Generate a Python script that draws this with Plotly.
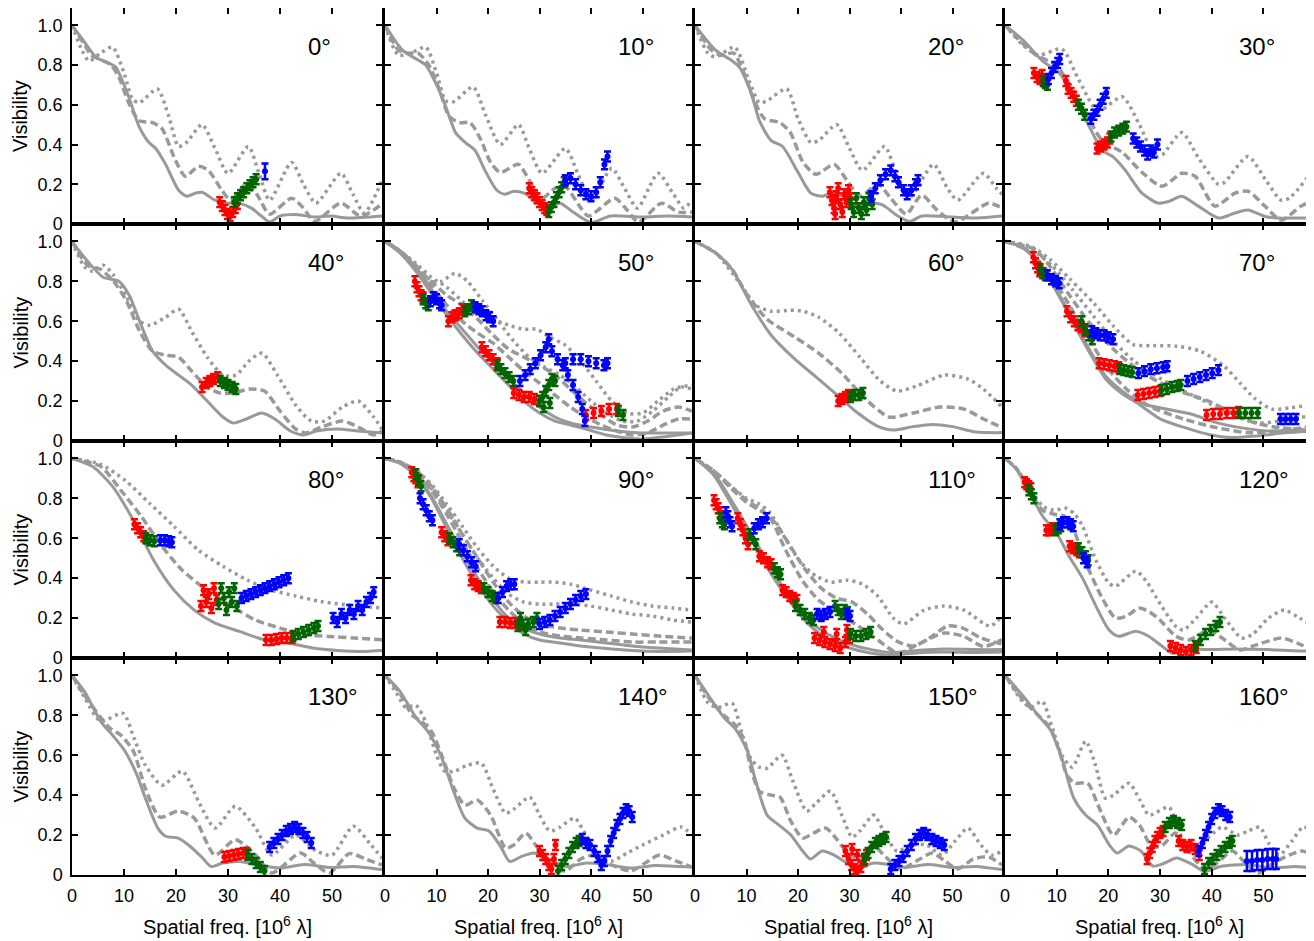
import plotly.graph_objects as go

ANGLES = [0, 10, 20, 30, 40, 50, 60, 70, 80, 90, 110, 120, 130, 140, 150, 160]
X_TICKS = [0, 10, 20, 30, 40, 50]
Y_TICKS = [0, 0.2, 0.4, 0.6, 0.8, 1.0]
Y_TICK_TEXT = ["0", "0.2", "0.4", "0.6", "0.8", "1.0"]

# model curves: angle -> list of curves, each a list of (spatial freq, visibility)
SOLID = {
    0: [[(0,1.0),(2,0.93),(4.6,0.84),(7.1,0.81),(8.4,0.79),(10.9,0.64),(12.9,0.49),(14.8,0.41),(16.1,0.38),(18,0.30),(20.5,0.17),(22.1,0.14),(23.7,0.155),(25,0.16),(27.5,0.12),(30,0.105),(32,0.105),(34.5,0.08),(36.4,0.04),(38,0.01),(40,0.04),(43.4,0.047),(46.6,0.035),(49.8,0.04),(53,0.03),(59.6,0.04)]],
    10: [[(0,1.0),(3.4,0.875),(6.4,0.825),(7.9,0.80),(10.2,0.69),(11.8,0.59),(13.7,0.46),(15.6,0.41),(17.5,0.37),(19.4,0.27),(21.7,0.17),(23.2,0.15),(25.1,0.165),(27,0.155),(30,0.105),(32,0.085),(34,0.105),(36.5,0.06),(40,0.008),(43.8,0.04),(50,0.035),(55,0.04),(59.6,0.035)]],
    20: [[(0,1),(4,0.875),(7,0.825),(8.6,0.79),(10.9,0.66),(12.5,0.52),(14.8,0.42),(17,0.39),(20,0.26),(22.5,0.155),(24.8,0.14),(26.3,0.155),(28.6,0.14),(31.7,0.09),(34,0.105),(36.3,0.097),(39.4,0.04),(41.7,0.013),(44,0.04),(50,0.035),(54.8,0.03),(59.6,0.04)]],
    30: [[(0,1),(3.5,0.925),(7.3,0.82),(10.5,0.76),(13.7,0.62),(16.9,0.46),(18.8,0.37),(20.8,0.34),(23.3,0.27),(26.5,0.155),(29.7,0.105),(31.7,0.114),(34.2,0.14),(37.4,0.09),(41.3,0.03),(44.5,0.055),(47,0.07),(50.3,0.038),(52.8,0.03),(56,0.03),(59.6,0.03)]],
    40: [[(0,1),(3,0.9),(6,0.82),(9,0.8),(11,0.73),(13,0.6),(15.5,0.45),(18,0.38),(20.5,0.33),(23,0.28),(26,0.2),(29,0.12),(31,0.09),(33.5,0.11),(36.5,0.14),(39,0.11),(42,0.05),(44.5,0.03),(47,0.05),(51,0.06),(55,0.05),(59.6,0.04)]],
    50: [[(0,1),(3,0.95),(6,0.87),(9,0.76),(12,0.65),(15,0.56),(18,0.47),(21,0.39),(24,0.31),(27,0.24),(30,0.17),(33,0.12),(36,0.09),(40,0.07),(45,0.05),(50,0.04),(55,0.04),(59.6,0.04)],
         [(0,1),(3,0.94),(6,0.85),(9,0.74),(12,0.63),(15,0.53),(18,0.44),(21,0.36),(24,0.28),(27,0.2),(30,0.14),(33,0.1),(36,0.08),(39,0.06),(43,0.03),(47,0.015),(50,0.01),(54,0.02),(59.6,0.04)]],
    60: [[(0,1),(4.1,0.94),(7.2,0.86),(11,0.68),(14.8,0.53),(19.4,0.41),(24,0.31),(28.5,0.21),(31.6,0.14),(35.4,0.075),(38.5,0.055),(42.3,0.072),(46.1,0.083),(50,0.072),(54.5,0.045),(59.6,0.042)]],
    70: [[(0,1),(3.4,0.97),(7.2,0.875),(11,0.71),(14.9,0.525),(19.5,0.325),(24,0.225),(27.1,0.183),(31.7,0.158),(36.3,0.133),(40.9,0.092),(45.5,0.067),(50.8,0.05),(59.6,0.058)],
         [(0,1),(3.4,0.97),(7.2,0.87),(11,0.7),(14.9,0.51),(19.5,0.31),(22.5,0.24),(25.6,0.19),(30.2,0.108),(34.8,0.067),(39.4,0.033),(44,0.017),(48.5,0.025),(54.7,0.042),(59.6,0.05)]],
    80: [[(0,1),(3.9,0.96),(7.8,0.86),(11.8,0.69),(15.7,0.49),(19.6,0.34),(23.5,0.24),(27.5,0.175),(32.2,0.133),(36.9,0.092),(41.6,0.075),(46.3,0.05),(51,0.038),(56.5,0.033),(59.6,0.037)]],
    90: [[(0,1),(3,0.975),(6,0.91),(9,0.8),(12,0.65),(15,0.5),(18,0.37),(21,0.26),(24,0.18),(27,0.12),(30,0.09),(34,0.075),(38,0.06),(43,0.048),(48,0.038),(53,0.033),(59.6,0.035)],
         [(0,1),(3,0.975),(6,0.915),(9,0.81),(12,0.67),(15,0.53),(18,0.4),(21,0.29),(24,0.2),(27,0.15),(30,0.12),(34,0.1),(38,0.09),(43,0.075),(48,0.06),(53,0.05),(59.6,0.04)]],
    110: [[(0,1),(3.5,0.93),(7.3,0.78),(11.2,0.61),(15,0.44),(18.8,0.29),(22.7,0.175),(26.5,0.11),(30.4,0.067),(34.2,0.042),(38,0.028),(43.2,0.038),(48.3,0.045),(54.7,0.042),(59.6,0.042)],
          [(0,1),(3.5,0.92),(7.3,0.76),(11,0.59),(14.8,0.42),(18.5,0.28),(22,0.17),(26,0.09),(30,0.05),(34,0.025),(38,0.015),(43,0.025),(48,0.03),(54,0.028),(59.6,0.03)]],
    120: [[(0,1),(2.2,0.945),(4.8,0.83),(7.3,0.71),(9.9,0.63),(12.4,0.51),(15,0.4),(17.6,0.26),(20.1,0.142),(22,0.109),(25.3,0.134),(27.8,0.109),(30.4,0.059),(32.3,0.025),(35.5,0.045),(39.4,0.042),(44.5,0.045),(50.9,0.042),(59.6,0.033)]],
    130: [[(0,1),(2.4,0.92),(5.5,0.77),(7.8,0.7),(10.2,0.62),(12.5,0.5),(14.1,0.385),(16.5,0.235),(18,0.194),(20.4,0.185),(22.7,0.144),(25.1,0.085),(26.7,0.043),(29,0.06),(32.2,0.068),(35.3,0.052),(40,0.035),(44.7,0.052),(49.4,0.038),(54.1,0.043),(59.6,0.027)]],
    140: [[(0,1),(2.9,0.92),(6,0.79),(8.3,0.72),(10.8,0.6),(13.1,0.435),(15.5,0.285),(17.9,0.235),(20.2,0.22),(22.6,0.135),(24.2,0.068),(26.5,0.093),(28.9,0.11),(32,0.077),(35.2,0.043),(39.1,0.06),(43.1,0.052),(47.8,0.035),(52.5,0.048),(57.2,0.043),(59.6,0.04)]],
    150: [[(0,1),(2.6,0.9),(5.6,0.79),(7.9,0.73),(10.2,0.62),(11.8,0.47),(14,0.3),(16.3,0.25),(18.6,0.2),(20.9,0.12),(22.4,0.08),(24.7,0.12),(27,0.1),(30,0.052),(31.6,0.035),(34.7,0.06),(37.7,0.052),(40.8,0.038),(45.3,0.052),(49.9,0.038),(54.5,0.043),(59.6,0.027)]],
    160: [[(0,1),(3.4,0.9),(6.4,0.8),(8.7,0.73),(11,0.585),(13.3,0.385),(15.6,0.3),(17.9,0.25),(20.2,0.15),(21.7,0.11),(24,0.145),(26.3,0.12),(28.6,0.045),(30.9,0.06),(33.2,0.085),(36.3,0.052),(38.6,0.018),(41.7,0.043),(47,0.052),(51.6,0.035),(56.2,0.043),(59.6,0.035)]],
}

DASHED = {
    0: [[(0,1.0),(2.7,0.89),(3.6,0.85),(5.2,0.83),(7.5,0.80),(9,0.74),(10.9,0.61),(12.9,0.52),(15.5,0.51),(17.3,0.48),(19.9,0.32),(21.8,0.24),(24.3,0.29),(26.2,0.27),(28.8,0.17),(30.5,0.12),(33.5,0.2),(35.5,0.15),(38,0.05),(42.2,0.13),(44.5,0.08),(46.6,0.013),(51.7,0.105),(55.5,0.04),(59.6,0.1)]],
    10: [[(0,1.0),(2.6,0.875),(4.5,0.86),(6.4,0.86),(8.5,0.80),(10.5,0.68),(12.5,0.54),(14.5,0.51),(16.5,0.51),(18.5,0.43),(20.5,0.31),(22.4,0.26),(25.9,0.30),(28,0.22),(30.5,0.13),(33,0.18),(35,0.19),(37.5,0.1),(39.5,0.04),(44.6,0.13),(47,0.07),(49.2,0.01),(53.7,0.105),(57,0.06),(59.6,0.06)]],
    20: [[(0,1),(3,0.88),(5,0.85),(7.5,0.86),(9.5,0.76),(11.5,0.62),(13.5,0.53),(16.5,0.51),(18.5,0.46),(21,0.31),(23.5,0.25),(27,0.30),(29.5,0.22),(32,0.14),(35.5,0.20),(38,0.13),(41,0.05),(44,0.145),(47,0.07),(50.5,0.01),(57,0.105),(59.6,0.08)]],
    30: [[(0,1),(2.2,0.94),(6,0.85),(9.9,0.8),(12.5,0.7),(15,0.59),(18.8,0.42),(22.7,0.36),(26.5,0.26),(30.4,0.19),(34.2,0.255),(36.8,0.24),(40.6,0.09),(44.5,0.155),(47,0.165),(50.3,0.09),(53.4,0.02),(57.3,0.09),(59.6,0.12)]],
    40: [[(0,1),(3,0.88),(5.5,0.86),(8,0.8),(10.5,0.7),(13,0.55),(15.5,0.45),(18,0.43),(20.5,0.42),(23,0.35),(26,0.27),(28.5,0.24),(31,0.24),(34,0.26),(37,0.25),(40,0.15),(43,0.06),(45,0.04),(48,0.07),(52,0.1),(55,0.07),(58,0.03),(59.6,0.05)]],
    50: [[(0,1),(3,0.95),(6,0.88),(9,0.78),(12,0.68),(15,0.6),(18,0.54),(21,0.49),(24,0.42),(27,0.35),(30,0.29),(33,0.23),(36,0.17),(39,0.12),(42,0.08),(45,0.05),(48,0.03),(51,0.04),(54,0.08),(57,0.11),(59.6,0.11)],
         [(0,1),(3,0.95),(6,0.87),(9,0.8),(12,0.73),(15,0.68),(18,0.61),(21,0.53),(24,0.46),(27,0.42),(30,0.38),(33,0.33),(36,0.26),(39,0.19),(42,0.13),(45,0.08),(48,0.07),(51,0.1),(54,0.15),(57,0.17),(59.6,0.15)]],
    60: [[(0,1),(4.1,0.94),(7.2,0.86),(10.2,0.73),(14,0.61),(19.4,0.52),(24,0.44),(28.5,0.34),(33.1,0.21),(37.7,0.12),(42.3,0.14),(47.6,0.17),(52.2,0.16),(56,0.11),(59.6,0.067)]],
    70: [[(0,1),(5.7,0.96),(8.7,0.875),(12.6,0.725),(16.4,0.59),(21,0.46),(25.6,0.36),(30.2,0.29),(34.8,0.24),(39.4,0.2),(44,0.14),(48.5,0.09),(53.1,0.067),(57.7,0.058),(59.6,0.067)],
         [(0,1),(4,0.96),(8,0.86),(12,0.7),(16,0.52),(20,0.36),(23.5,0.26),(27.9,0.175),(34.8,0.108),(40.9,0.067),(47,0.042),(53.1,0.05),(59.6,0.075)]],
    80: [[(0,1),(5.5,0.96),(9.4,0.84),(13.3,0.71),(17.3,0.56),(21.2,0.44),(25.9,0.34),(30.6,0.26),(35.3,0.19),(40,0.15),(44.7,0.117),(49.4,0.108),(54.1,0.1),(59.6,0.092)]],
    90: [[(0,1),(3,0.98),(6,0.93),(9,0.84),(12,0.72),(15,0.58),(18,0.45),(21,0.33),(24,0.24),(27,0.17),(30,0.13),(34,0.11),(38,0.1),(43,0.09),(48,0.08),(53,0.08),(59.6,0.08)],
         [(0,1),(3,0.98),(6,0.94),(9,0.86),(12,0.75),(15,0.62),(18,0.5),(21,0.38),(24,0.28),(27,0.21),(30,0.17),(34,0.15),(38,0.14),(43,0.13),(48,0.12),(53,0.11),(59.6,0.1)]],
    110: [[(0,1),(3.5,0.94),(7,0.85),(10,0.78),(12.5,0.74),(14.4,0.71),(17.6,0.54),(20.8,0.39),(24,0.29),(27.8,0.225),(31.7,0.16),(35.5,0.09),(39.4,0.025),(43.2,0.067),(48.3,0.125),(52.2,0.108),(56,0.058),(59.6,0.092)],
          [(0,1),(3.5,0.94),(7,0.86),(10,0.79),(13,0.74),(15.5,0.68),(18.5,0.56),(21.5,0.44),(24.5,0.35),(27.5,0.3),(30.5,0.28),(33.5,0.22),(36.5,0.14),(39.5,0.08),(42.5,0.06),(45.5,0.1),(49,0.16),(52,0.15),(55.5,0.1),(59.6,0.07)]],
    120: [[(0,1),(2.2,0.95),(4.8,0.84),(7.3,0.74),(9.5,0.72),(11.5,0.71),(13,0.66),(15.6,0.48),(18.8,0.3),(21.4,0.2),(23.5,0.21),(25.9,0.25),(28,0.23),(30,0.19),(33,0.11),(35.5,0.09),(39.5,0.14),(42,0.1),(45.5,0.04),(48,0.06),(53.5,0.1),(57,0.07),(59.6,0.04)]],
    130: [[(0,1),(2.4,0.9),(5.5,0.79),(7.1,0.74),(9.4,0.7),(11.8,0.62),(14.1,0.435),(16.9,0.29),(20.4,0.32),(23.5,0.285),(27.5,0.1),(31.4,0.177),(35.3,0.1),(38.4,0.01),(43.9,0.11),(46.5,0.06),(49.5,0.01),(53.3,0.107),(56.5,0.08),(59.6,0.05)]],
    140: [[(0,1),(2.9,0.91),(5.3,0.8),(7,0.77),(9,0.72),(11,0.6),(13.5,0.43),(15.5,0.35),(17.9,0.375),(20.5,0.3),(23.4,0.135),(25,0.15),(27.3,0.21),(29.5,0.14),(32,0.05),(35,0.02),(38,0.08),(40.7,0.1),(44,0.05),(47.8,0.02),(50.5,0.06),(53.3,0.1),(56.5,0.07),(59.6,0.04)]],
    150: [[(0,1),(2.6,0.89),(5.6,0.8),(7.9,0.75),(9.5,0.68),(11,0.52),(12.5,0.42),(14.8,0.4),(16.5,0.39),(18.6,0.27),(20.9,0.185),(23,0.21),(25.4,0.235),(27.5,0.18),(30,0.1),(32,0.09),(34.5,0.15),(37,0.09),(40,0.03),(43,0.07),(46.1,0.11),(48.5,0.07),(51,0.03),(54,0.08),(57,0.09),(59.6,0.05)]],
    160: [[(0,1),(3.4,0.88),(6.4,0.8),(8.7,0.74),(10.5,0.62),(12,0.5),(13.5,0.46),(16,0.46),(18,0.35),(21,0.2),(24,0.29),(26,0.25),(28.5,0.14),(30.5,0.15),(33,0.21),(35.5,0.12),(38.6,0.03),(41,0.06),(44,0.12),(46.5,0.06),(49,0.01),(52,0.06),(55,0.1),(57.5,0.12),(59.6,0.1)]],
}

DOTTED = {
    0: [[(0,1.0),(2,0.87),(3.3,0.82),(5.5,0.86),(7.8,0.89),(10,0.76),(11.6,0.63),(12.9,0.61),(16.4,0.68),(18.5,0.55),(20.5,0.39),(22,0.41),(25,0.50),(27.5,0.38),(30,0.255),(33.9,0.39),(36,0.25),(38,0.12),(42.2,0.31),(44.5,0.2),(46.9,0.105),(51.7,0.255),(54,0.15),(56.2,0.055),(59.6,0.22)]],
    10: [[(0,1.0),(2.6,0.85),(5,0.86),(7.9,0.89),(10,0.76),(11.8,0.62),(13.3,0.615),(17.1,0.69),(19.5,0.55),(22.4,0.40),(25.9,0.50),(28,0.38),(30.5,0.255),(35,0.38),(37.5,0.25),(40,0.12),(44,0.28),(46.5,0.18),(49,0.08),(53,0.255),(56,0.15),(58,0.08),(59.6,0.12)]],
    20: [[(0,1),(2.5,0.86),(4,0.84),(7.7,0.89),(10.5,0.72),(12.5,0.61),(14,0.62),(17.8,0.68),(20,0.53),(22.5,0.41),(24,0.42),(27.5,0.50),(30,0.38),(32.5,0.27),(36.8,0.39),(39,0.26),(41.5,0.13),(46.3,0.30),(49,0.18),(51,0.12),(56,0.255),(58.5,0.18),(59.6,0.15)]],
    30: [[(0,1),(3.5,0.9),(6.5,0.85),(11,0.88),(14,0.74),(17.5,0.58),(19,0.58),(22.7,0.64),(26,0.5),(29.1,0.34),(30.5,0.35),(34.2,0.46),(37.5,0.33),(41.3,0.2),(42.5,0.21),(47,0.34),(50.5,0.22),(53.4,0.12),(55,0.13),(59.6,0.27)]],
    40: [[(0,1),(2.5,0.87),(4,0.85),(6,0.88),(8,0.83),(10.5,0.72),(13,0.6),(15,0.58),(18,0.62),(20.5,0.66),(23,0.55),(26,0.42),(29,0.33),(31.5,0.33),(34,0.4),(36.5,0.44),(39.5,0.33),(43,0.18),(46,0.1),(48.5,0.1),(52,0.17),(55,0.2),(58,0.12),(59.6,0.06)]],
    50: [[(0,1),(3,0.95),(6,0.88),(9,0.8),(11,0.8),(13.6,0.84),(16,0.8),(19,0.7),(22,0.6),(25,0.5),(28,0.42),(31,0.37),(34,0.33),(37,0.27),(40,0.2),(43,0.14),(46,0.1),(49,0.1),(52,0.15),(55,0.22),(57.5,0.27),(59.6,0.26)],
         [(0,1),(3,0.95),(6,0.89),(9,0.82),(12,0.77),(15,0.7),(18,0.64),(21,0.61),(24,0.58),(27,0.56),(29.5,0.56),(32,0.52),(35,0.48),(38,0.4),(41,0.3),(44,0.2),(47,0.14),(50,0.14),(53,0.2),(56,0.26),(59.6,0.28)]],
    60: [[(0,1),(4.1,0.94),(8.7,0.79),(11.8,0.68),(14.8,0.65),(18.5,0.655),(21,0.65),(24,0.62),(28,0.54),(32,0.42),(36,0.3),(39.2,0.25),(43,0.275),(48.4,0.33),(53,0.31),(56,0.26),(59.6,0.17)]],
    70: [[(0,1),(4.9,0.975),(8.7,0.91),(12.6,0.81),(17.2,0.69),(21,0.575),(24.8,0.483),(28.6,0.478),(33.2,0.475),(37.8,0.45),(42.4,0.375),(45.5,0.29),(48.5,0.21),(51.6,0.16),(55.4,0.167),(59.6,0.183)],
         [(0,1),(5,0.96),(9,0.88),(13,0.76),(17,0.63),(21,0.5),(25,0.4),(29,0.33),(33,0.27),(37,0.22),(41,0.17),(45,0.12),(49,0.09),(53,0.1),(57,0.12),(59.6,0.12)]],
    80: [[(0,1),(5.5,0.97),(10.2,0.89),(14.9,0.775),(19.6,0.66),(24.3,0.54),(29,0.46),(33.7,0.39),(38.4,0.34),(43.1,0.31),(47.8,0.283),(52.5,0.267),(59.6,0.25)]],
    90: [[(0,1),(3,0.98),(6,0.94),(9,0.87),(12,0.77),(15,0.66),(18,0.55),(21,0.46),(24,0.4),(27,0.38),(30,0.38),(33,0.38),(36,0.37),(40,0.34),(44,0.31),(48,0.28),(52,0.26),(56,0.25),(59.6,0.24)],
         [(0,1),(3,0.98),(6,0.93),(9,0.85),(12,0.74),(15,0.62),(18,0.5),(21,0.4),(24,0.32),(27,0.28),(30,0.27),(33,0.27),(36,0.27),(40,0.26),(44,0.24),(48,0.22),(52,0.21),(56,0.19),(59.6,0.18)]],
    110: [[(0,1),(3.5,0.94),(7,0.86),(10,0.8),(12.5,0.77),(14.5,0.73),(17.5,0.6),(20.5,0.48),(23.5,0.41),(26.5,0.38),(29.5,0.39),(32.5,0.37),(35.5,0.31),(38.5,0.2),(40.5,0.17),(44.5,0.24),(48.3,0.26),(52.2,0.24),(57.3,0.16),(59.6,0.21)]],
    120: [[(0,1),(2.2,0.95),(4.8,0.85),(7.3,0.76),(9.5,0.74),(11.8,0.75),(13.5,0.72),(15,0.66),(17.6,0.49),(20.1,0.375),(21.4,0.36),(25.3,0.435),(27.5,0.38),(29.1,0.31),(33,0.16),(34.5,0.14),(37,0.2),(40,0.28),(42.5,0.2),(45.8,0.1),(48,0.12),(51,0.2),(54,0.24),(57,0.2),(59.6,0.16)]],
    130: [[(0,1),(2.4,0.89),(5.5,0.77),(9.8,0.81),(12,0.68),(14.1,0.55),(17.3,0.45),(21.2,0.52),(24.3,0.37),(27.5,0.235),(31.4,0.344),(35.3,0.235),(38.4,0.1),(43,0.2),(47,0.12),(50,0.1),(54.1,0.244),(57.5,0.15),(59.6,0.085)]],
    140: [[(0,1),(2.5,0.9),(4,0.84),(6,0.85),(8,0.76),(10,0.6),(11.6,0.52),(13.5,0.52),(16,0.55),(18.7,0.56),(21,0.43),(23.4,0.31),(25,0.33),(28.1,0.39),(30,0.3),(32,0.22),(34,0.24),(36.8,0.285),(39,0.2),(41.5,0.1),(44,0.07),(47,0.11),(50,0.15),(54,0.2),(57.5,0.24),(59.6,0.2)]],
    150: [[(0,1),(2.6,0.86),(4.5,0.84),(7.2,0.86),(9,0.72),(10.9,0.58),(12.5,0.54),(14,0.535),(16.9,0.6),(19,0.47),(21.7,0.32),(23.5,0.36),(26.3,0.42),(28.5,0.3),(30.5,0.19),(32,0.22),(34.7,0.3),(37,0.2),(39.2,0.12),(42,0.15),(45,0.15),(48,0.1),(50.5,0.17),(53,0.235),(55.5,0.15),(57.6,0.1),(59.6,0.12)]],
    160: [[(0,1),(3.4,0.87),(5,0.84),(7.2,0.87),(9,0.75),(11,0.6),(13,0.54),(15.6,0.67),(17.5,0.55),(19.4,0.385),(21,0.4),(24,0.46),(26,0.38),(27.9,0.3),(31.7,0.34),(34,0.2),(36,0.12),(39,0.18),(42,0.24),(45,0.2),(47,0.22),(49.3,0.24),(51,0.16),(53.1,0.1),(55.5,0.17),(57.7,0.24),(59.6,0.22)]],
}

# measured visibilities: angle -> list of (spatial freq, visibility[, error])
RED = {
    0: [(28.4,0.11),(28.9,0.09),(29.4,0.07),(29.9,0.05),(30.4,0.04),(30.9,0.06),(31.4,0.08),(31.8,0.1)],
    10: [(28,0.18),(28.5,0.16),(29,0.145),(29.5,0.13),(30,0.11),(30.5,0.095),(31,0.08),(31.4,0.07)],
    20: [(26.2,0.16),(26.6,0.12),(27,0.08),(27.4,0.14),(27.8,0.18),(28.2,0.1),(28.6,0.06),(29,0.15),(29.4,0.11),(29.8,0.17),(30.2,0.13),(27.2,0.05)],
    30: [(5.6,0.76),(6.2,0.74),(6.8,0.73),(7.2,0.75),(7.6,0.72),(11.8,0.72),(12.2,0.68),(12.8,0.66),(13.3,0.64),(13.8,0.62),(17.8,0.38),(18.5,0.39),(19.2,0.4),(19.8,0.41),(20.3,0.43)],
    40: [(25,0.27),(25.8,0.29),(26.5,0.3),(27.2,0.31),(28,0.32)],
    50: [(5.8,0.8),(6.2,0.77),(6.6,0.75),(7,0.73),(7.4,0.72),(12.3,0.6),(13,0.62),(13.7,0.63),(14.4,0.64),(15,0.66),(18.8,0.47),(19.5,0.45),(20.2,0.43),(21,0.41),(21.8,0.39),(25,0.24),(26,0.23),(27,0.22),(28,0.22),(29,0.21),(30,0.2),(39,0.13),(40.5,0.14),(42,0.15),(43.5,0.16),(45,0.16)],
    60: [(27.8,0.2),(28.5,0.21),(29.2,0.22),(29.8,0.23)],
    70: [(5.5,0.92),(5.9,0.89),(6.3,0.87),(6.7,0.85),(12,0.65),(12.7,0.62),(13.4,0.6),(14.1,0.58),(14.8,0.57),(15.5,0.55),(18.2,0.39),(19.2,0.385),(20.2,0.38),(21.2,0.375),(22,0.37),(25.7,0.23),(26.8,0.235),(27.9,0.24),(29,0.245),(30,0.25),(39,0.13),(40.3,0.135),(41.6,0.135),(42.9,0.14),(44.2,0.14),(45.2,0.145)],
    80: [(12,0.67),(12.6,0.65),(13.2,0.63),(13.8,0.61),(24.8,0.26),(25.3,0.34),(25.8,0.28),(26.3,0.32),(26.8,0.25),(27.3,0.35),(27.8,0.29),(37.3,0.09),(38.3,0.09),(39.3,0.095),(40.3,0.1),(41.3,0.1),(42.3,0.1)],
    90: [(5.2,0.93),(5.6,0.91),(6,0.9),(6.4,0.88),(11,0.63),(11.6,0.61),(12.2,0.59),(16.7,0.39),(17.4,0.37),(18.1,0.36),(18.7,0.35),(22.3,0.18),(23.3,0.18),(24.3,0.175),(25.3,0.175),(26.2,0.17)],
    110: [(3.7,0.79),(4.1,0.77),(4.5,0.75),(4.9,0.73),(5.2,0.71),(8.3,0.7),(8.8,0.67),(9.3,0.64),(9.8,0.6),(10.3,0.57),(12.5,0.51),(13.3,0.5),(14.1,0.48),(14.8,0.47),(17,0.34),(17.7,0.33),(18.4,0.31),(19.1,0.3),(19.8,0.29),(23.2,0.1),(24.2,0.09),(25.2,0.08),(26.2,0.07),(27.2,0.06),(28.2,0.05),(29.2,0.08),(30,0.1),(25,0.13),(27.5,0.12),(29.5,0.14)],
    120: [(3.8,0.88),(4.2,0.87),(4.6,0.86),(5,0.85),(8,0.64),(8.6,0.64),(9.2,0.65),(12.5,0.56),(13.2,0.55),(13.9,0.54),(14.4,0.53),(32,0.06),(33,0.05),(34,0.04),(35,0.03),(36,0.04),(37,0.05)],
    130: [(29.3,0.09),(30.2,0.095),(31.1,0.1),(32,0.105),(32.9,0.11),(33.6,0.11)],
    140: [(30,0.12),(30.6,0.1),(31.2,0.08),(31.8,0.05),(32.3,0.03),(32.8,0.08),(33.1,0.15)],
    150: [(29.2,0.12),(29.8,0.08),(30.4,0.05),(31,0.03),(31.6,0.02),(32.2,0.04),(32.8,0.07),(33.3,0.1),(30.5,0.13),(31.5,0.1)],
    160: [(27.5,0.08),(28,0.11),(28.5,0.14),(29,0.17),(29.5,0.19),(30,0.21),(30.6,0.22),(33.6,0.17),(34.4,0.15),(35.2,0.14),(36,0.15),(36.8,0.13),(37.6,0.1)],
}

GREEN = {
    0: [(31.2,0.11),(31.8,0.13),(32.4,0.145),(33,0.16),(33.6,0.18),(34.2,0.195),(34.8,0.21),(35.4,0.225)],
    10: [(31.8,0.06),(32.3,0.085),(32.8,0.11),(33.3,0.135),(33.8,0.16),(34.3,0.185),(34.8,0.21)],
    20: [(30.3,0.1),(30.8,0.06),(31.3,0.13),(31.8,0.08),(32.3,0.05),(32.8,0.11),(33.3,0.07),(33.8,0.13),(34.4,0.1)],
    30: [(7.4,0.72),(7.8,0.71),(8.2,0.70),(14.2,0.6),(14.8,0.58),(15.4,0.55),(20.5,0.44),(21.2,0.46),(22,0.47),(22.8,0.48),(23.5,0.49)],
    40: [(28.5,0.3),(29.3,0.29),(30,0.28),(30.8,0.27),(31.5,0.26)],
    50: [(7.4,0.71),(7.9,0.69),(8.4,0.68),(15.5,0.65),(16.2,0.66),(16.8,0.68),(21.8,0.38),(22.5,0.36),(23.3,0.34),(24.1,0.32),(24.9,0.3),(30,0.2),(30.6,0.22),(31.2,0.25),(31.8,0.28),(32.4,0.31),(33,0.3),(30.8,0.17),(32,0.19),(45.3,0.15),(46.2,0.13)],
    60: [(30.2,0.22),(31,0.23),(31.8,0.23),(32.6,0.24)],
    70: [(6.8,0.86),(7.3,0.84),(7.8,0.83),(14.8,0.6),(15.5,0.56),(16.2,0.53),(16.9,0.51),(22.2,0.36),(23,0.355),(23.8,0.35),(24.6,0.345),(30.3,0.255),(31.3,0.26),(32.3,0.27),(33.3,0.275),(34,0.28),(45.3,0.14),(46.5,0.14),(47.7,0.14),(48.9,0.14)],
    80: [(14.2,0.6),(15,0.59),(15.8,0.585),(28.2,0.27),(28.7,0.35),(29.2,0.3),(29.7,0.24),(30.2,0.33),(30.7,0.28),(31.2,0.35),(31.7,0.26),(42.5,0.11),(43.5,0.12),(44.5,0.13),(45.5,0.14),(46.5,0.15),(47.3,0.16)],
    90: [(6,0.92),(6.5,0.89),(7,0.86),(12.5,0.6),(13.2,0.58),(13.9,0.56),(14.5,0.54),(19.2,0.35),(20,0.33),(20.8,0.31),(21.5,0.3),(25.8,0.16),(26.8,0.165),(27.8,0.17),(28.8,0.18),(29.5,0.2),(26.3,0.2),(27.3,0.14)],
    110: [(4.8,0.7),(5.3,0.68),(5.7,0.67),(10.6,0.62),(11.2,0.6),(11.8,0.57),(15.4,0.45),(16,0.43),(16.6,0.42),(19.5,0.26),(20.4,0.24),(21.3,0.22),(22.2,0.2),(23,0.19),(27.2,0.26),(27.8,0.24),(28.4,0.22),(29,0.24),(29.6,0.23),(30.2,0.12),(31.2,0.11),(32.2,0.11),(33.2,0.12),(34.1,0.13)],
    120: [(4.6,0.84),(5.1,0.82),(5.6,0.8),(9.8,0.64),(10.3,0.65),(10.8,0.66),(14.2,0.55),(14.9,0.53),(15.6,0.51),(16.1,0.49),(36.8,0.06),(37.8,0.09),(38.8,0.12),(39.8,0.14),(40.8,0.16),(41.6,0.18)],
    130: [(33.8,0.1),(34.6,0.08),(35.4,0.06),(36.2,0.04),(37,0.02)],
    140: [(33.6,0.02),(34.3,0.05),(35,0.08),(35.7,0.11),(36.4,0.14),(37.1,0.16),(37.7,0.17)],
    150: [(32.9,0.08),(33.6,0.11),(34.3,0.14),(35,0.16),(35.7,0.17),(36.4,0.18),(37.1,0.19)],
    160: [(31,0.24),(31.8,0.26),(32.6,0.27),(33.4,0.26),(34.2,0.25),(38.6,0.03),(39.4,0.06),(40.2,0.08),(41,0.1),(41.8,0.12),(42.6,0.14),(43.4,0.16),(44,0.17)],
}

BLUE = {
    0: [(37.1,0.265,0.04)],
    10: [(35,0.22),(36,0.23),(37,0.2),(38,0.17),(39,0.15),(40,0.14),(41,0.16),(41.8,0.21),(42.6,0.30),(43.2,0.34)],
    20: [(34.2,0.14),(35,0.18),(36,0.22),(37,0.25),(38,0.27),(38.8,0.24),(39.5,0.21),(40.5,0.17),(41.2,0.15),(42,0.17),(42.8,0.2),(43.3,0.22)],
    30: [(8.4,0.73),(9,0.76),(9.6,0.79),(10.2,0.81),(10.6,0.83),(16.6,0.53),(17.2,0.55),(17.8,0.57),(18.4,0.6),(19,0.63),(19.6,0.66),(24.8,0.43),(25.5,0.41),(26.2,0.39),(27,0.37),(27.6,0.35),(28.2,0.37),(28.8,0.36),(29.5,0.40)],
    50: [(8.8,0.7),(9.4,0.72),(10,0.71),(10.6,0.69),(11,0.68),(17.5,0.67),(18.2,0.66),(18.9,0.65),(19.6,0.63),(20.3,0.62),(21,0.6),(26.2,0.3),(27.2,0.33),(28.2,0.36),(29.2,0.39),(30.2,0.43),(31.2,0.47),(31.8,0.51),(32.4,0.45),(33.5,0.41),(34.5,0.38),(35.5,0.33),(36.5,0.28),(37.5,0.22),(38.3,0.16),(38.8,0.1),(35,0.39),(36.5,0.41),(38,0.41),(39.5,0.4),(41,0.39),(42.5,0.38),(43.2,0.39)],
    70: [(8.2,0.83),(9,0.81),(9.8,0.8),(10.5,0.79),(16.8,0.55),(17.6,0.54),(18.4,0.53),(19.2,0.53),(20,0.52),(20.9,0.51),(25.8,0.34),(27,0.35),(28.2,0.36),(29.4,0.365),(30.6,0.37),(31.4,0.375),(35.3,0.3),(36.5,0.31),(37.7,0.32),(38.9,0.33),(40.1,0.34),(41.3,0.355),(53.3,0.11),(54.3,0.11),(55.3,0.11),(56.3,0.11)],
    80: [(17,0.59),(17.8,0.59),(18.6,0.585),(19.2,0.58),(32.6,0.3),(33.5,0.31),(34.4,0.32),(35.3,0.33),(36.2,0.34),(37.1,0.35),(38,0.36),(38.9,0.37),(39.8,0.38),(40.7,0.39),(41.6,0.4),(50.2,0.2),(51,0.18),(51.8,0.22),(52.6,0.2),(53.4,0.24),(54.2,0.22),(55,0.26),(55.8,0.24),(56.6,0.28),(57.4,0.3),(58,0.33)],
    90: [(6.8,0.8),(7.4,0.77),(8,0.74),(8.6,0.71),(9.2,0.69),(14.4,0.57),(15.2,0.54),(16,0.51),(16.8,0.48),(17.6,0.46),(22,0.3),(22.8,0.33),(23.6,0.36),(24.4,0.37),(25.1,0.37),(30,0.17),(31,0.18),(32,0.19),(33,0.21),(34,0.23),(35,0.25),(36,0.27),(37,0.29),(38,0.31),(39,0.32)],
    110: [(6,0.73),(6.4,0.71),(6.8,0.68),(7.2,0.66),(11.5,0.65),(12.3,0.67),(13.1,0.68),(13.9,0.7),(23.7,0.22),(24.5,0.21),(25.3,0.22),(26.2,0.23),(29.5,0.22),(30.1,0.21)],
    120: [(10.6,0.67),(11.3,0.68),(12,0.68),(12.7,0.67),(13.2,0.66),(15.2,0.5),(15.9,0.48)],
    130: [(38,0.14),(38.8,0.16),(39.6,0.18),(40.4,0.2),(41.2,0.22),(42,0.23),(42.8,0.24),(43.6,0.23),(44.4,0.21),(45.2,0.19),(46,0.16)],
    140: [(38.3,0.18),(39,0.16),(39.8,0.15),(40.6,0.12),(41.3,0.09),(42,0.05),(42.6,0.07),(43.2,0.12),(43.8,0.17),(44.4,0.21),(45,0.25),(45.6,0.28),(46.2,0.31),(46.8,0.33),(47.4,0.32),(48,0.29)],
    150: [(38,0.03),(38.8,0.05),(39.6,0.07),(40.4,0.09),(41.2,0.12),(42,0.15),(42.8,0.18),(43.6,0.2),(44.4,0.21),(45.2,0.2),(46,0.18),(46.8,0.17),(47.6,0.16),(48.4,0.15)],
    160: [(37.5,0.12),(38.2,0.16),(38.8,0.2),(39.4,0.24),(40,0.28),(40.6,0.31),(41.3,0.33),(42,0.32),(42.7,0.3),(43.5,0.29),(46.8,0.07,0.05),(47.8,0.07,0.05),(48.8,0.075,0.05),(49.8,0.075,0.05),(50.8,0.08,0.05),(51.8,0.08,0.05),(52.5,0.08,0.05)],
}

DEFAULT_ERR = 0.025
GRAY = "#999999"
DATA_COLORS = [("#ff0000", RED), ("#006400", GREEN), ("#0000ff", BLUE)]
LINE_STYLES = [(SOLID, "solid", 3), (DASHED, "8px,4px", 3.5), (DOTTED, "3px,4px", 3.5)]
FONT = "Liberation Sans, Arial, Helvetica, sans-serif"

# the page adds an 8px body margin, so figure pixels = screen pixels - 8
OFF = 8
W, H = 1314 - OFF, 941 - OFF
PL, PR, PT, PB = 72 - OFF, 1313 - OFF, 0, 875 - OFF   # plotting area in figure pixels
PW, PH = PR - PL, PB - PT
COL_PX = [(72, 382), (385, 692), (695, 1002), (1005, 1313)]   # screen pixels
ROW_PX = [(8, 224), (224, 441), (441, 658), (658, 875)]

fig = go.Figure()
annotations = []
layout_axes = {}

for i, ang in enumerate(ANGLES):
    r, c = divmod(i, 4)
    n = "" if i == 0 else str(i + 1)
    xa, ya = "x" + n, "y" + n
    for curves, dash, width in LINE_STYLES:
        for curve in curves.get(ang, []):
            fig.add_trace(go.Scatter(
                x=[p[0] for p in curve], y=[p[1] for p in curve], mode="lines",
                line=dict(color=GRAY, width=width, dash=dash, shape="spline", smoothing=0.7),
                xaxis=xa, yaxis=ya, showlegend=False, hoverinfo="skip"))
    for color, data in DATA_COLORS:
        pts = data.get(ang, [])
        if not pts:
            continue
        fig.add_trace(go.Scatter(
            x=[p[0] for p in pts], y=[p[1] for p in pts], mode="markers",
            marker=dict(color=color, size=6, line=dict(width=0)),
            error_y=dict(type="data", array=[p[2] if len(p) > 2 else DEFAULT_ERR for p in pts],
                         color=color, thickness=2.5, width=3.5),
            xaxis=xa, yaxis=ya, showlegend=False))
    x0, x1 = COL_PX[c][0] - OFF, COL_PX[c][1] - OFF
    y0, y1 = ROW_PX[r][0] - OFF, ROW_PX[r][1] - OFF
    layout_axes["xaxis" + n] = dict(
        domain=[(x0 - PL) / PW, (x1 - PL) / PW], range=[0, 59.6], anchor=ya,
        automargin=False,
        showline=True, mirror="allticks", linecolor="black", linewidth=1.5,
        ticks="inside", ticklen=6, tickwidth=1.5, tickcolor="black",
        tickvals=X_TICKS, showticklabels=(r == 3), ticklabelstandoff=4,
        tickfont=dict(size=18, color="black", family=FONT),
        showgrid=False, zeroline=False, fixedrange=True)
    layout_axes["yaxis" + n] = dict(
        domain=[(PB - y1) / PH, (PB - y0) / PH], range=[0, 1.087], anchor=xa,
        automargin=False,
        showline=True, mirror="allticks", linecolor="black", linewidth=1.5,
        ticks="inside", ticklen=6, tickwidth=1.5, tickcolor="black",
        tickvals=Y_TICKS, ticktext=Y_TICK_TEXT, showticklabels=(c == 0),
        ticklabelstandoff=4,
        tickfont=dict(size=18, color="black", family=FONT),
        showgrid=False, zeroline=False, fixedrange=True)
    annotations.append(dict(
        text=f"{ang}°", x=44.9, y=0.895, xref=xa, yref=ya, xanchor="left",
        yanchor="middle", showarrow=False, font=dict(size=24, color="black", family=FONT)))

for r in range(4):
    y0, y1 = ROW_PX[r][0] - OFF, ROW_PX[r][1] - OFF
    annotations.append(dict(
        text="Visibility", x=(20 - OFF - PL) / PW, y=(PB - (y0 + y1) / 2) / PH,
        xref="paper", yref="paper",
        textangle=-90, showarrow=False, xanchor="center", yanchor="middle",
        font=dict(size=20, color="black", family=FONT)))
for c in range(4):
    x0, x1 = COL_PX[c][0] - OFF, COL_PX[c][1] - OFF
    annotations.append(dict(
        text="Spatial freq. [10<sup>6</sup> λ]", x=((x0 + x1) / 2 - PL) / PW,
        y=(PB - (925 - OFF)) / PH,
        xref="paper", yref="paper", showarrow=False, xanchor="center", yanchor="middle",
        font=dict(size=20, color="black", family=FONT)))

fig.update_layout(
    width=W, height=H, autosize=False,
    margin=dict(l=PL, r=W - PR, t=PT, b=H - PB, pad=0),
    paper_bgcolor="white", plot_bgcolor="white",
    font=dict(family=FONT, color="black"),
    annotations=annotations, **layout_axes)

fig.write_html("out.html")
